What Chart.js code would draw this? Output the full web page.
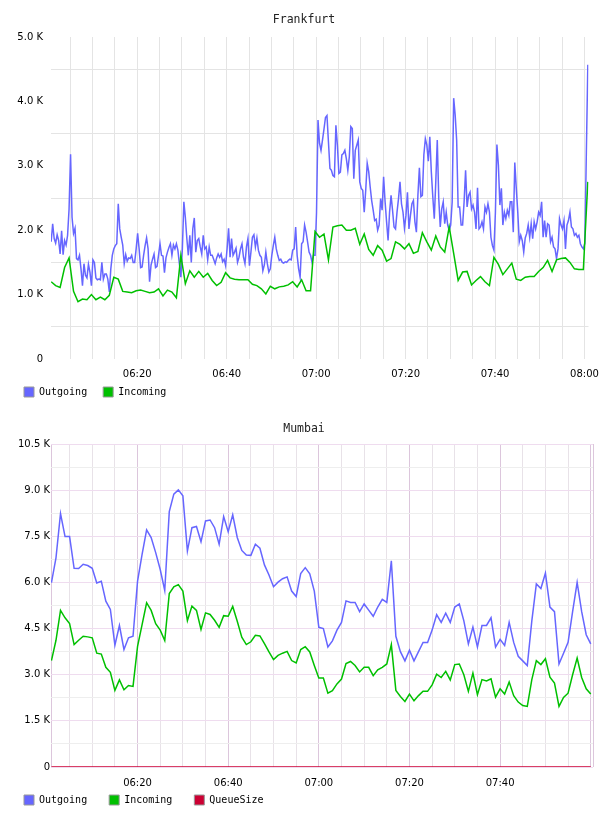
<!DOCTYPE html>
<html>
<head>
<meta charset="utf-8">
<title>Frankfurt / Mumbai</title>
<script src="https://cdn.jsdelivr.net/npm/chart.js@4.4.0/dist/chart.umd.min.js"></script>
<style>
  html, body { margin: 0; padding: 0; background: #fff; }
  body { position: relative; width: 608px; height: 816px; overflow: hidden; }
  .panel { position: absolute; left: 0; width: 608px; }
  #panel-fra { top: 0; height: 419px; }
  #panel-bom { top: 408px; height: 425px; }
</style>
</head>
<body>
<div class="panel" id="panel-fra"><canvas id="frankfurt" width="608" height="419"></canvas></div>
<div class="panel" id="panel-bom"><canvas id="mumbai" width="608" height="425"></canvas></div>
<script>
// Throughput per site - Outgoing / Incoming (and QueueSize for Mumbai)

const monoFont = '"DejaVu Sans Mono", monospace'
const sansFont = '"DejaVu Sans", Verdana, sans-serif'

const seriesNames = ['Outgoing', 'Incoming', 'QueueSize']
const seriesColors = ['#6666ff', '#00c000', '#cc0033']

// x values are minutes after 06:00
const timeLabels = ['06:20', '06:40', '07:00', '07:20', '07:40', '08:00']
const labelMinutes = [20, 40, 60, 80, 100, 120]
const gridMinutes = [5, 10, 15, 20, 25, 30, 35, 40, 45, 50, 55, 60, 65, 70, 75, 80, 85, 90, 95, 100, 105, 110, 115, 120]

const frankfurtYTicks = [0, 500, 1000, 1500, 2000, 2500, 3000, 3500, 4000, 4500, 5000]
const mumbaiYTicks = [0, 750, 1500, 2250, 3000, 3750, 4500, 5250, 6000, 6750, 7500, 8250, 9000, 9750, 10500]

// Frankfurt: outgoing sampled every 20 s, incoming every minute, first sample 06:00:45
const frankfurtStart = 0.75
const frankfurtOutgoing = [
  1820, 2100, 1870, 1800, 1930, 1840, 1630, 1990, 1620, 1840,
  1770, 1920, 2330, 3180, 2200, 1950, 2030, 1560, 1540, 1610,
  1400, 1140, 1480, 1300, 1260, 1470, 1350, 1140, 1540, 1500,
  1260, 1230, 1240, 1230, 1500, 1240, 1320, 1320, 1240, 1040,
  1400, 1610, 1710, 1760, 1790, 2410, 2020, 1890, 1770, 1480,
  1620, 1520, 1570, 1560, 1610, 1500, 1500, 1710, 1950, 1710,
  1420, 1430, 1610, 1760, 1880, 1710, 1200, 1460, 1550, 1630,
  1420, 1440, 1610, 1790, 1610, 1600, 1340, 1570, 1660, 1730,
  1790, 1610, 1770, 1710, 1790, 1690, 1480, 1270, 1710, 2440,
  2200, 1870, 1610, 1920, 1500, 2020, 2190, 1660, 1840, 1870,
  1740, 1630, 1920, 1710, 1740, 1540, 1740, 1610, 1610, 1550,
  1480, 1570, 1630, 1580, 1630, 1510, 1550, 1450, 1710, 2030,
  1580, 1870, 1610, 1660, 1720, 1500, 1580, 1710, 1790, 1580,
  1480, 1740, 1870, 1450, 1660, 1890, 1930, 1740, 1880, 1690,
  1610, 1580, 1370, 1460, 1660, 1480, 1350, 1400, 1610, 1760,
  1890, 1710, 1610, 1530, 1550, 1500, 1490, 1510, 1500, 1530,
  1550, 1540, 1690, 1710, 2050, 1610, 1400, 1270, 1790, 1820,
  2080, 1970, 1820, 1660, 1610, 1500, 1610, 1610, 2280,
  3710, 3350, 3240, 3400, 3570, 3750, 3780, 3370, 2960, 2930,
  2850, 2830, 3630, 3320, 2880, 2900, 3170, 3190, 3240, 3110,
  2930, 3140, 3610, 3580, 2800, 3240, 3320, 3400, 2750, 2650,
  2620, 2280, 2620, 3040, 2910, 2670, 2460, 2310, 2150, 2170,
  2000, 2080, 2490, 2310, 2830, 2440, 2130, 1840, 2280, 2540,
  2310, 2050, 2020, 2280, 2490, 2750, 2410, 2280, 2030, 2230,
  2590, 2020, 2230, 2410, 2460, 2130, 1970, 2540, 2970, 2520,
  2540, 3170, 3420, 3320, 3070, 3450, 2910, 2520, 2180, 2750,
  3400, 2490, 2050, 2330, 2440, 2100, 2280, 2080, 2000, 2080,
  2440, 4050, 3790, 3400, 2360, 2360, 2080, 2080, 2440, 2930,
  2360, 2540, 2590, 2330, 2390, 2280, 2020, 2660, 2020, 2050,
  2130, 2020, 2360, 2280, 2410, 2280, 1890, 1760, 1690, 2280,
  3330, 3010, 2390, 2650, 2080, 2280, 2180, 2310, 2230, 2440,
  2440, 1970, 3050, 2650, 2280, 1820, 1920, 1840, 1660, 1880,
  1950, 2080, 1890, 2100, 1870, 2130, 2020, 2130, 2280, 2230,
  2440, 1890, 2150, 1890, 2100, 2080, 1820, 1890, 1740, 1710,
  1560, 1710, 2180, 2080, 2020, 2150, 1710, 2080, 2150, 2280,
  2050, 2020, 1920, 1950, 1890, 1920, 1790, 1740, 1710,
  1800, 3200, 4570
]
const frankfurtIncoming = [
  1200, 1140, 1110, 1420, 1570, 1050, 890, 930, 920, 1000,
  920, 960, 920, 990, 1270, 1240, 1050, 1040, 1030, 1060,
  1070, 1050, 1030, 1040, 1090, 980, 1070, 1040, 950, 1610,
  1170, 1370, 1270, 1360, 1270, 1330, 1220, 1140, 1190, 1340,
  1260, 1240, 1230, 1230, 1230, 1160, 1140, 1090, 1010, 1130,
  1090, 1120, 1130, 1150, 1200, 1120, 1230, 1060, 1060, 1980,
  1890, 1940, 1540, 2050, 2070, 2080, 2000, 2000, 2030, 1780,
  1940, 1700, 1610, 1760, 1690, 1520, 1560, 1820, 1780, 1710,
  1790, 1640, 1670, 1960, 1820, 1690, 1910, 1740, 1660, 2050,
  1640, 1220, 1350, 1360, 1150, 1220, 1280, 1200, 1140, 1580,
  1470, 1310, 1400, 1490, 1240, 1220, 1270, 1280, 1280, 1360,
  1420, 1530, 1360, 1540, 1560, 1570, 1500, 1400, 1390, 1390,
  2750
]

// Mumbai: one sample per minute, first sample 06:01
const mumbaiStart = 1
const mumbaiOutgoing = [
  5990, 6800, 8240, 7490, 7490, 6460, 6450, 6590, 6550, 6460,
  5980, 6040, 5390, 5120, 3960, 4600, 3820, 4200, 4250, 6040,
  6910, 7710, 7460, 6970, 6420, 5740, 8300, 8870, 9010, 8820,
  7020, 7780, 7820, 7320, 8000, 8030, 7780, 7240, 8140, 7650,
  8200, 7460, 7040, 6890, 6880, 7240, 7110, 6570, 6240, 5860,
  6010, 6120, 6180, 5720, 5540, 6290, 6480, 6280, 5720, 4540,
  4500, 3900, 4100, 4450, 4700, 5400, 5350, 5350, 5050, 5300,
  5100, 4900, 5200, 5450, 5350, 6700, 4250, 3750, 3450, 3800,
  3450, 3750, 4050, 4050, 4450, 4950, 4700, 5000, 4700, 5200,
  5300, 4750, 4000, 4550, 3900, 4600, 4600, 4850, 3900, 4150,
  3950, 4700, 4050, 3600, 3450, 3300, 4750, 5950, 5800, 6300,
  5200, 5050, 3350, 3700, 4050, 5050, 6000, 5050, 4300, 4000
]
const mumbaiIncoming = [
  3460, 4120, 5090, 4850, 4660, 3980, 4120, 4250, 4230, 4200,
  3700, 3670, 3240, 3080, 2490, 2830, 2510, 2650, 2620, 3920,
  4630, 5340, 5090, 4660, 4450, 4110, 5640, 5860, 5930, 5720,
  4760, 5230, 5090, 4470, 5010, 4960, 4770, 4540, 4920, 4900,
  5220, 4740, 4220, 3980, 4070, 4280, 4260, 4010, 3740, 3490,
  3630, 3700, 3760, 3460, 3380, 3820, 3910, 3740, 3300, 2890,
  2890, 2400, 2480, 2700, 2860, 3360, 3430, 3300, 3090, 3240,
  3240, 2970, 3160, 3240, 3350, 3980, 2490, 2290, 2130, 2370,
  2150, 2320, 2460, 2460, 2670, 3020, 2910, 3110, 2830, 3330,
  3350, 3000, 2460, 3050, 2350, 2840, 2800, 2870, 2270, 2540,
  2370, 2760, 2320, 2110, 2000, 1970, 2840, 3460, 3330, 3520,
  2920, 2730, 1970, 2260, 2400, 3000, 3540, 2910, 2540, 2370
]
const mumbaiQueue = [
  0, 0, 0, 0, 0, 0, 0, 0, 0, 0, 0, 0, 0, 0, 0, 0, 0, 0, 0, 0,
  0, 0, 0, 0, 0, 0, 0, 0, 0, 0, 0, 0, 0, 0, 0, 0, 0, 0, 0, 0,
  0, 0, 0, 0, 0, 0, 0, 0, 0, 0, 0, 0, 0, 0, 0, 0, 0, 0, 0, 0,
  0, 0, 0, 0, 0, 0, 0, 0, 0, 0, 0, 0, 0, 0, 0, 0, 0, 0, 0, 0,
  0, 0, 0, 0, 0, 0, 0, 0, 0, 0, 0, 0, 0, 0, 0, 0, 0, 0, 0, 0,
  0, 0, 0, 0, 0, 0, 0, 0, 0, 0, 0, 0, 0, 0, 0, 0, 0, 0, 0, 0
]

function toPoints(values, start, step) {
  return values.map((v, i) => ({ x: start + i * step, y: v }))
}

function fmtK(v) {
  return v === 0 ? '0' : (v / 1000).toFixed(1) + ' K'
}

function fmtTime(m, lastLabel) {
  const i = labelMinutes.indexOf(m)
  return i >= 0 && m <= lastLabel ? timeLabels[i] : ''
}

function makeDataset(idx, points) {
  return {
    label: seriesNames[idx],
    data: points,
    borderColor: seriesColors[idx],
    backgroundColor: seriesColors[idx],
    borderWidth: 1.5,
    pointRadius: 0,
    tension: 0,
    fill: false,
    order: 2 - idx,
  }
}

// title centred on the whole canvas
const captionPlugin = {
  id: 'caption',
  afterDraw(chart, args, opts) {
    const ctx = chart.ctx
    ctx.save()
    ctx.font = '11.5px ' + monoFont
    ctx.fillStyle = '#222'
    ctx.textAlign = 'center'
    ctx.textBaseline = 'middle'
    ctx.fillText(opts.text, chart.width / 2, opts.y)
    ctx.restore()
  },
}

// pull the legend row up so it sits right under the time labels
const legendRowPlugin = {
  id: 'legendRow',
  afterLayout(chart, args, opts) {
    const lg = chart.legend
    const h = lg.bottom - lg.top
    lg.top = opts.y - lg.options.labels.padding - 5
    lg.bottom = lg.top + h
  },
}

function makeChart(id, cfg) {
  const xTicks = cfg.edgeLines ? [cfg.xMin].concat(gridMinutes, [cfg.xMax]) : gridMinutes
  return new Chart(document.getElementById(id), {
    type: 'line',
    data: { datasets: cfg.datasets },
    plugins: [captionPlugin, legendRowPlugin],
    options: {
      responsive: false,
      animation: false,
      events: [],
      layout: { padding: { left: cfg.padLeft, right: 15, top: cfg.padTop, bottom: 0 } },
      plugins: {
        caption: { text: cfg.title, y: cfg.titleY },
        legendRow: { y: cfg.legendY },
        title: { display: false },
        tooltip: { enabled: false },
        legend: {
          position: 'bottom',
          align: 'start',
          labels: {
            boxWidth: 10,
            boxHeight: 10,
            padding: cfg.legendPad,
            color: '#000',
            font: { family: monoFont, size: 10 },
            generateLabels: chart =>
              chart.data.datasets.map((ds, i) => ({
                text: ds.label,
                fillStyle: ds.borderColor,
                strokeStyle: '#999',
                lineWidth: 1,
                hidden: false,
                datasetIndex: i,
              })),
          },
        },
      },
      scales: {
        x: {
          type: 'linear',
          min: cfg.xMin,
          max: cfg.xMax,
          afterBuildTicks: s => { s.ticks = xTicks.map(v => ({ value: v })) },
          afterFit: s => { s.height = 24 },
          border: { display: false },
          grid: { color: cfg.xGrid, drawTicks: false },
          ticks: {
            autoSkip: false,
            maxRotation: 0,
            padding: cfg.xPad,
            color: '#000',
            font: { family: sansFont, size: 10 },
            callback: v => fmtTime(v, cfg.lastLabel),
          },
        },
        y: {
          min: 0,
          max: cfg.yTicks[cfg.yTicks.length - 1],
          afterBuildTicks: s => { s.ticks = cfg.yTicks.map(v => ({ value: v })) },
          afterFit: s => { s.width = cfg.yWidth },
          border: { display: false },
          grid: { color: cfg.yGrid, drawTicks: false },
          ticks: {
            padding: cfg.yPad,
            color: '#000',
            font: { family: sansFont, size: 10 },
            callback: v => (v % cfg.labelStep === 0 ? fmtK(v) : ''),
          },
        },
      },
    },
  })
}

makeChart('frankfurt', {
  title: 'Frankfurt',
  titleY: 20,
  legendY: 392,
  padTop: 37,
  padLeft: 8,
  legendPad: 16,
  xMin: 0.71,
  xMax: 120.9,
  xPad: 9,
  lastLabel: 120,
  yWidth: 43,
  yPad: 8,
  yTicks: frankfurtYTicks,
  labelStep: 1000,
  edgeLines: false,
  xGrid: '#e4e4e4',
  yGrid: ctx => (ctx.tick.value % 1000 ? '#e4e4e4' : 'rgba(0,0,0,0)'),
  datasets: [
    makeDataset(0, toPoints(frankfurtOutgoing, frankfurtStart, 1 / 3)),
    makeDataset(1, toPoints(frankfurtIncoming, frankfurtStart, 1)),
  ],
})

makeChart('mumbai', {
  title: 'Mumbai',
  titleY: 21,
  legendY: 392,
  padTop: 36,
  padLeft: 2,
  legendPad: 22,
  xMin: 0.9,
  xMax: 120.5,
  xPad: 10,
  lastLabel: 100,
  yWidth: 49,
  yPad: 1,
  yTicks: mumbaiYTicks,
  labelStep: 1500,
  edgeLines: true,
  xGrid: ctx => {
    const v = ctx.tick.value
    return labelMinutes.includes(v) || v === 0.9 || v === 120.5 ? '#dcc6dc' : '#e8e2e8'
  },
  yGrid: ctx => (ctx.tick.value % 1500 === 0 ? '#efdcef' : '#eeeeee'),
  datasets: [
    makeDataset(0, toPoints(mumbaiOutgoing, mumbaiStart, 1)),
    makeDataset(1, toPoints(mumbaiIncoming, mumbaiStart, 1)),
    makeDataset(2, toPoints(mumbaiQueue, mumbaiStart, 1)),
  ],
})
</script>
</body>
</html>
